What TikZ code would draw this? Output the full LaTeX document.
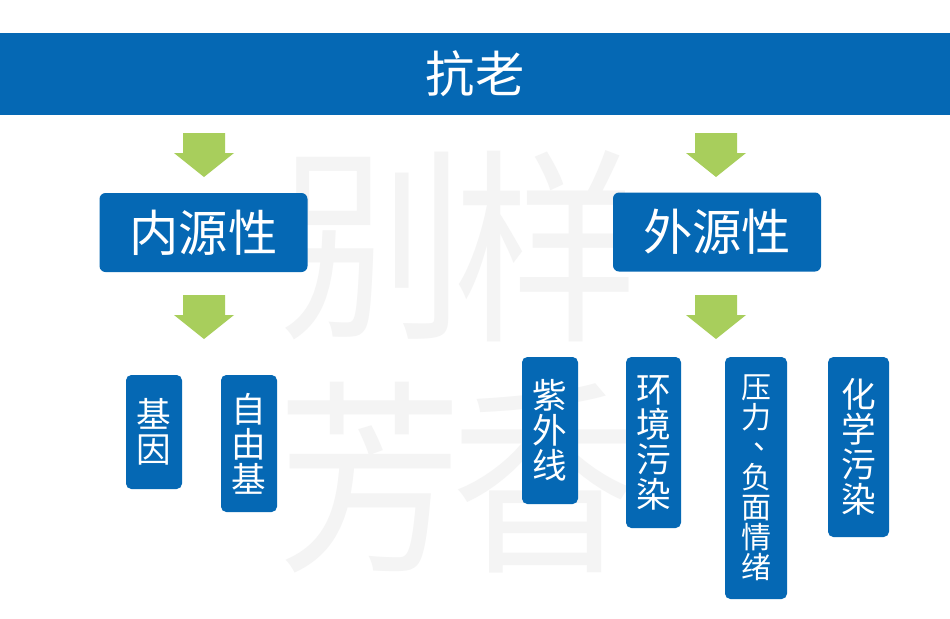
\documentclass[tikz,border=0pt]{standalone}
\usepackage{fontspec}
\newfontfamily\cjk{Noto Sans CJK SC}
\definecolor{bblue}{HTML}{0568B4}
\definecolor{agreen}{HTML}{A8CE5C}
\definecolor{wmgray}{HTML}{F4F4F4}
\newcommand\bigcjk{\cjk\fontsize{37}{40}\selectfont}
\newcommand\vfont{\cjk\fontsize{26}{26.25}\selectfont\lineskiplimit=-100pt\relax}
\newcommand\vfonttight{\cjk\fontsize{22.5}{22.5}\selectfont\lineskiplimit=-100pt\relax}
\newcommand\vcomma{\makebox[1em][l]{\hspace{0.42em}\raisebox{0.3em}{、}}}
\begin{document}
\begin{tikzpicture}[x=0.75pt,y=-0.75pt,
  wmark/.style={text=wmgray, font=\cjk\fontsize{139}{139}\selectfont, inner sep=0pt, yscale=1.12, transform shape},
  banner/.style={fill=bblue, text=white, font=\bigcjk, inner sep=0pt, minimum width=712.5pt, minimum height=61.5pt},
  srcbox/.style={fill=bblue, text=white, font=\bigcjk, inner sep=0pt, rounded corners=4.5pt, minimum width=156pt, minimum height=59.25pt},
  vbox/.style={fill=bblue, text=white, font=\vfont, align=center, inner sep=0pt, rounded corners=4pt},
  garrow/.pic={\fill[agreen] (-21,0) -- (21,0) -- (21,20) -- (30,20) -- (0,44) -- (-30,20) -- (-21,20) -- cycle;}
]
\useasboundingbox (0,0) rectangle (950,618);
\fill[white] (0,0) rectangle (950,618);
% watermark
\node[wmark] (w1) at (372,246) {别};
\node[wmark] (w2) at (546,246) {样};
\node[wmark] (w3) at (370,478) {芳};
\node[wmark] (w4) at (544,478) {香};
% title banner
\node[banner] (title) at (475,74) {抗老};
% arrows
\pic at (204,133) {garrow};
\pic at (716,133) {garrow};
\pic at (204,295) {garrow};
\pic at (716,295) {garrow};
% source boxes
\node[srcbox] (endo) at (203.5,232.5) {内源性};
\node[srcbox] (exo) at (717,232) {外源性};
% leaf boxes
\node[vbox, minimum width=42pt, minimum height=85.5pt] (gene) at (154,432) {基\\因};
\node[vbox, minimum width=42pt, minimum height=102.75pt] (radical) at (249,443.5) {自\\由\\基};
\node[vbox, minimum width=42pt, minimum height=110.25pt] (uv) at (550,430.5) {紫\\外\\线};
\node[vbox, minimum width=41.25pt, minimum height=128.25pt] (env) at (653.5,442.5) {环\\境\\污\\染};
\node[vbox, font=\vfonttight, minimum width=46.5pt, minimum height=181.5pt] (stress) at (756,478) {压\\力\\\vcomma\\负\\面\\情\\绪};
\node[vbox, minimum width=45.75pt, minimum height=135pt] (chem) at (858.5,447) {化\\学\\污\\染};
\end{tikzpicture}
\end{document}
